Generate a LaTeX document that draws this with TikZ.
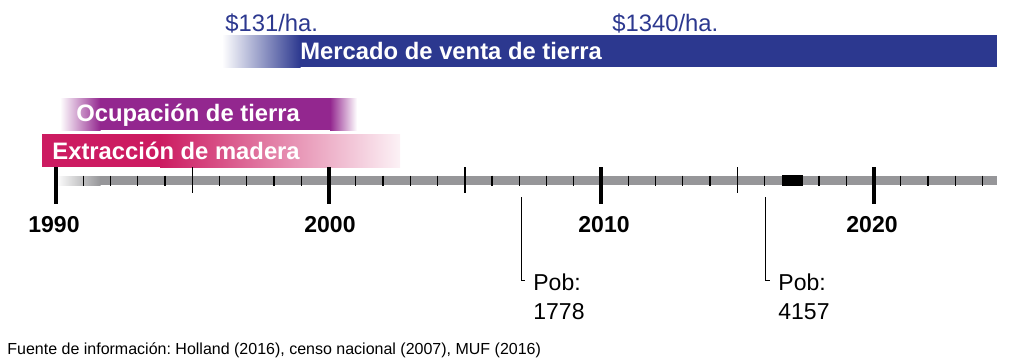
\documentclass[tikz,border=0pt]{standalone}
\usepackage{fontspec}
\setmainfont{Liberation Sans}
\usetikzlibrary{positioning}
\frenchspacing

\definecolor{mercadoblue}{RGB}{44,56,143}
\definecolor{ocupapurple}{RGB}{147,39,143}
\definecolor{maderared}{RGB}{204,27,97}
\definecolor{axisgray}{RGB}{150,150,153}

\begin{document}
\begin{tikzpicture}[x=0.5pt,y=-0.5pt,
    barlabel/.style={text=white, font=\bfseries\fontsize{11.9}{14}\selectfont, inner sep=0, anchor=west},
    price/.style={text=mercadoblue, font=\fontsize{11.9}{14}\selectfont, inner sep=0, anchor=west},
    yearlabel/.style={font=\bfseries\fontsize{11.5}{14}\selectfont, inner sep=0},
    poblabel/.style={font=\fontsize{11.5}{14.5}\selectfont, inner sep=0, align=left, anchor=west},
    minortick/.style={line width=0.6pt},
    midtick/.style={line width=0.75pt},
    majortick/.style={line width=2pt},
    callout/.style={line width=0.5pt}]
  \useasboundingbox (0,0) rectangle (1017,361);

  % Mercado de venta de tierra
  \shade[left color=white, middle color=mercadoblue!35, right color=mercadoblue] (222,35) rectangle (300.5,67);
  \fill[mercadoblue] (300,35) rectangle (997,67);
  \node[price] (p131) at (225,24) {\$131/ha.};
  \node[price] (p1340) at (612,24) {\$1340/ha.};
  \node[barlabel] (mercado) at (300,51) {Mercado de venta de tierra};

  % Ocupacion de tierra
  \shade[left color=white, right color=ocupapurple] (60,98) rectangle (100.5,130);
  \fill[ocupapurple] (100,98) rectangle (330.5,130);
  \shade[left color=ocupapurple, right color=white] (330,98) rectangle (357,130);
  \node[barlabel] (ocupacion) at (76,115) {Ocupación de tierra};

  % Extraccion de madera
  \fill[maderared] (42,134) rectangle (160.5,167);
  \shade[left color=maderared, right color=maderared!6] (160,134) rectangle (400,167);
  \node[barlabel] (madera) at (52,151) {Extracción de madera};

  % Axis
  \shade[left color=white, right color=axisgray] (56,176) rectangle (100.5,185);
  \fill[axisgray] (100,176) rectangle (997,185);
  \foreach \yr in {1,...,34} {
    \pgfmathsetmacro{\xx}{56+27.25*\yr}
    \draw[minortick] (\xx,175.5) -- (\xx,185.5);
  }
  \foreach \yr in {5,15,25} {
    \pgfmathsetmacro{\xx}{56+27.25*\yr}
    \draw[midtick] (\xx,167) -- (\xx,193);
  }
  \foreach \yr in {0,10,20,30} {
    \pgfmathsetmacro{\xx}{56+27.25*\yr}
    \draw[majortick] (\xx,167) -- (\xx,204);
  }
  % 2017
  \fill[black] (781.7,175) rectangle (803.3,186);

  % Years
  \node[yearlabel] (y1990) at (54,225) {1990};
  \node[yearlabel] (y2000) at (330,225) {2000};
  \node[yearlabel] (y2010) at (604,225) {2010};
  \node[yearlabel] (y2020) at (872,225) {2020};

  % Poblacion
  \coordinate (t2007) at (521,197);
  \coordinate (k2007) at (525,280);
  \node[poblabel] (pob2007) at (533,297) {Pob:\\1778};
  \draw[callout] (t2007) |- (k2007);
  \coordinate (t2016) at (765.5,197);
  \coordinate (k2016) at (769.5,280);
  \node[poblabel] (pob2016) at (778,297) {Pob:\\4157};
  \draw[callout] (t2016) |- (k2016);

  % Fuente
  \node[anchor=west, inner sep=0, font=\fontsize{8}{10}\selectfont] (fuente) at (7,350)
    {Fuente de información: Holland (2016), censo nacional (2007), MUF (2016)};
\end{tikzpicture}
\end{document}
